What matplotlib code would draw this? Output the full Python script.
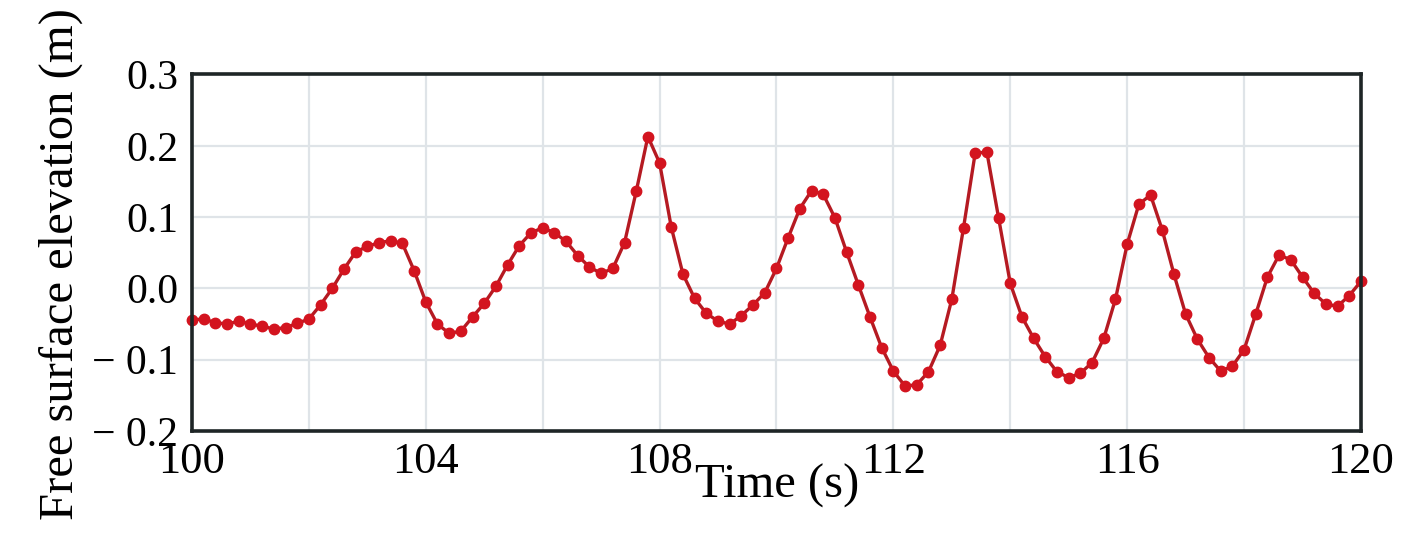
import numpy as np
import matplotlib
matplotlib.use("Agg")
import matplotlib.pyplot as plt
from matplotlib.ticker import FixedLocator, FixedFormatter

# Time samples (s), every 0.2 s from 100 to 120
time_s = np.round(np.linspace(100.0, 120.0, 101), 1)

# Free surface elevation (m)
elevation = [
    -0.044, -0.043, -0.048, -0.050, -0.046, -0.050, -0.053, -0.057, -0.055, -0.049,
    -0.043, -0.023, 0.000, 0.027, 0.051, 0.059, 0.064, 0.067, 0.063, 0.025,
    -0.019, -0.050, -0.063, -0.060, -0.040, -0.021, 0.003, 0.033, 0.060, 0.078,
    0.085, 0.078, 0.066, 0.046, 0.030, 0.021, 0.028, 0.064, 0.136, 0.213,
    0.176, 0.086, 0.020, -0.014, -0.035, -0.046, -0.050, -0.038, -0.023, -0.006,
    0.028, 0.071, 0.112, 0.137, 0.132, 0.099, 0.051, 0.005, -0.040, -0.083,
    -0.116, -0.137, -0.135, -0.117, -0.080, -0.015, 0.085, 0.190, 0.191, 0.099,
    0.007, -0.040, -0.070, -0.096, -0.117, -0.125, -0.119, -0.104, -0.070, -0.015,
    0.062, 0.118, 0.131, 0.082, 0.020, -0.036, -0.071, -0.097, -0.116, -0.109,
    -0.086, -0.036, 0.016, 0.047, 0.040, 0.016, -0.007, -0.022, -0.025, -0.010,
    0.010,
]

x_ticks = [100, 104, 108, 112, 116, 120]
x_tick_labels = ["100", "104", "108", "112", "116", "120"]
y_ticks = [-0.2, -0.1, 0.0, 0.1, 0.2, 0.3]
y_tick_labels = ["\u2212 0.2", "\u2212 0.1", "0.0", "0.1", "0.2", "0.3"]
x_grid = [102, 104, 106, 108, 110, 112, 114, 116, 118]
y_grid = [-0.1, 0.0, 0.1, 0.2]

plt.rcParams['font.family'] = ['Liberation Serif', 'DejaVu Serif']

fig = plt.figure(figsize=(14.19, 5.49), dpi=100)
ax = fig.add_axes([0.1353, 0.2149, 0.9591 - 0.1353, 0.8643 - 0.2149])

ax.plot(time_s, elevation, color='#b51a22', linewidth=2.4, marker='o',
        markersize=7.5, markerfacecolor='#d3141f', markeredgecolor='#d3141f',
        zorder=3, clip_on=False)

ax.set_xlim(100, 120)
ax.set_ylim(-0.2, 0.3)

for xv in x_grid:
    ax.axvline(xv, color='#dfe4e8', linewidth=1.6, zorder=1)
for yv in y_grid:
    ax.axhline(yv, color='#dfe4e8', linewidth=1.6, zorder=1)

ax.xaxis.set_major_locator(FixedLocator(x_ticks))
ax.xaxis.set_major_formatter(FixedFormatter(x_tick_labels))
ax.yaxis.set_major_locator(FixedLocator(y_ticks))
ax.yaxis.set_major_formatter(FixedFormatter(y_tick_labels))
ax.tick_params(axis='both', length=0, colors='black')
ax.tick_params(axis='x', labelsize=32, pad=8)
ax.tick_params(axis='y', labelsize=30, pad=10)

for sp in ax.spines.values():
    sp.set_linewidth(2.6)
    sp.set_color('#1e2526')
    sp.set_zorder(4)

ax.set_xlabel('Time (s)', fontsize=35)
ax.xaxis.label.set_va('baseline')
ax.xaxis.set_label_coords(0.5004, -0.188)

ax.set_ylabel('Free surface elevation (m)', fontsize=35)
ax.yaxis.set_label_coords(-0.0932, 0.468)

fig.savefig('out.png', dpi=100)
